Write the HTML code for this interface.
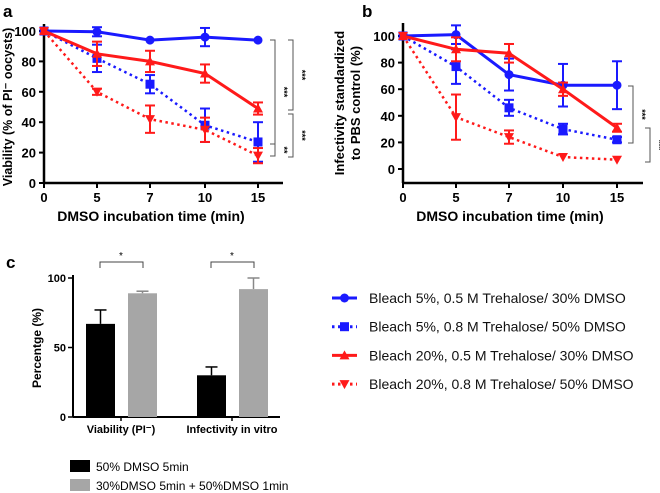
<!DOCTYPE html>
<html><head><meta charset="utf-8"><style>
body{margin:0;background:#fff}
svg{display:block;font-family:"Liberation Sans",Arial,sans-serif}
</style></head><body>
<svg id="fig" width="660" height="493" viewBox="0 0 660 493">
<text x="3" y="17" font-size="17" font-weight="bold">a</text>
<text x="362" y="17" font-size="17" font-weight="bold">b</text>
<text x="6" y="268" font-size="17" font-weight="bold">c</text>
<g id="ga"></g>
<g id="gb"></g>
<g id="gc"></g>
<g id="leg"></g>
</svg>
<script>
const timeCats=["0","5","7","10","15"];
const aBlueSolid=[100,99.5,94,96,94], aBlueSolidErr=[0,3,0,6,0];
const aBlueDot=[100,82,65,38,27], aBlueDotErr=[0,9,6,11,13];
const aRedSolid=[100,85,80,72,49], aRedSolidErr=[0,8,7,6,4];
const aRedDot=[100,60,42,35,18], aRedDotErr=[0,2,9,8,5];
const bBlueSolid=[100,101,71,63,63], bBlueSolidErr=[0,7,12,16,18];
const bBlueDot=[100,77,46,30,22], bBlueDotErr=[0,13,6,4,2];
const bRedSolid=[100,90,87,60,31], bRedSolidErr=[0,9,7,5,3];
const bRedDot=[100,39,24,9,7], bRedDotErr=[0,17,5,0,0];
const yTicks=[0,20,40,60,80,100];
const cCats=["Viability (PI\u207B)","Infectivity in vitro"];
const cBlack=[67,30], cBlackErr=[10,6];
const cGray=[89,92], cGrayErr=[1.5,8];
const cTicks=[0,50,100];
const legendLabels=["Bleach 5%, 0.5 M Trehalose/ 30% DMSO","Bleach 5%, 0.8 M Trehalose/ 50% DMSO","Bleach 20%, 0.5 M Trehalose/ 30% DMSO","Bleach 20%, 0.8 M Trehalose/ 50% DMSO"];
const NS="http://www.w3.org/2000/svg";
function mk(p,tag,at,txt){const e=document.createElementNS(NS,tag);for(const k in at)e.setAttribute(k,at[k]);if(txt!==undefined)e.textContent=txt;p.appendChild(e);return e;}
const BLUE="#1a1aff",RED="#ff1a1a";
function marker(g,shape,x,y,c){
  let m;
  if(shape==="circle")m=mk(g,"circle",{cx:x,cy:y,r:4.5,fill:c});
  else if(shape==="square")m=mk(g,"rect",{x:x-4.5,y:y-4.5,width:9,height:9,fill:c});
  else if(shape==="tri")m=mk(g,"path",{d:`M${x} ${y-5}L${x+5} ${y+4}L${x-5} ${y+4}Z`,fill:c});
  else m=mk(g,"path",{d:`M${x} ${y+5}L${x+5} ${y-4}L${x-5} ${y-4}Z`,fill:c});
  return m;
}
function lineChart(g,cfg,series){
  const X=i=>cfg.xs[i], Y=v=>cfg.y0+(cfg.y100-cfg.y0)*v/100;
  mk(g,"line",{x1:cfg.ax,y1:cfg.top,x2:cfg.ax,y2:cfg.axY,stroke:"#000","stroke-width":2.5});
  mk(g,"line",{x1:cfg.ax,y1:cfg.axY,x2:cfg.right,y2:cfg.axY,stroke:"#000","stroke-width":2.5});
  yTicks.forEach(t=>{const y=Y(t);mk(g,"line",{x1:cfg.ax-5,y1:y,x2:cfg.ax,y2:y,stroke:"#000","stroke-width":2});
    const tl=mk(g,"text",{x:cfg.ax-8,y:y+5,"text-anchor":"end","font-size":13,"font-weight":"bold"},t);
    });
  timeCats.forEach((c,i)=>{const x=X(i);mk(g,"line",{x1:x,y1:cfg.axY,x2:x,y2:cfg.axY+5,stroke:"#000","stroke-width":2});
    const tl=mk(g,"text",{x:x,y:cfg.axY+19,"text-anchor":"middle","font-size":13,"font-weight":"bold"},c);
    });
  const xt=mk(g,"text",{x:(cfg.ax+cfg.xs[4])/2,y:cfg.axY+38,"text-anchor":"middle","font-size":14,"font-weight":"bold"},"DMSO incubation time (min)");
  
  series.forEach(s=>{
    const sg=mk(g,"g",{});
    
    const pts=s.v.map((v,i)=>X(i)+","+Y(v)).join(" ");
    mk(sg,"polyline",{points:pts,fill:"none",stroke:s.c,"stroke-width":s.dot?2.5:3,"stroke-dasharray":s.dot?"2.5 3.5":"none"});
    s.v.forEach((v,i)=>{const e=s.e[i];if(e>0){const x=X(i);
      mk(sg,"line",{x1:x,y1:Y(v+e),x2:x,y2:Y(v-e),stroke:s.c,"stroke-width":2});
      mk(sg,"line",{x1:x-5,y1:Y(v+e),x2:x+5,y2:Y(v+e),stroke:s.c,"stroke-width":2});
      mk(sg,"line",{x1:x-5,y1:Y(v-e),x2:x+5,y2:Y(v-e),stroke:s.c,"stroke-width":2});}
      const m=marker(sg,s.shape,X(i),Y(v),s.c);
      });
  });
}
function bracket(g,x,y1,y2,label){
  mk(g,"path",{d:`M${x-5} ${y1}H${x}V${y2}H${x-5}`,fill:"none",stroke:"#555","stroke-width":1});
  const cy=(y1+y2)/2;
  const t=mk(g,"text",{x:x+6,y:cy,"font-size":9,"font-weight":"bold","text-anchor":"middle",transform:`rotate(90 ${x+6} ${cy})`},label);
  
}
const ga=document.getElementById("ga"),gb=document.getElementById("gb");
lineChart(ga,{ax:44,top:24,axY:183,right:283,y0:183,y100:31,xs:[44,97,150,205,258]},[
 {name:"series-blue-solid",v:aBlueSolid,e:aBlueSolidErr,c:BLUE,shape:"circle",dot:false},
 {name:"series-blue-dotted",v:aBlueDot,e:aBlueDotErr,c:BLUE,shape:"square",dot:true},
 {name:"series-red-solid",v:aRedSolid,e:aRedSolidErr,c:RED,shape:"tri",dot:false},
 {name:"series-red-dotted",v:aRedDot,e:aRedDotErr,c:RED,shape:"tritri",dot:true}]);
lineChart(gb,{ax:403,top:23,axY:183,right:643,y0:169,y100:36,xs:[403,456,509,563,617]},[
 {name:"series-blue-solid",v:bBlueSolid,e:bBlueSolidErr,c:BLUE,shape:"circle",dot:false},
 {name:"series-blue-dotted",v:bBlueDot,e:bBlueDotErr,c:BLUE,shape:"square",dot:true},
 {name:"series-red-solid",v:bRedSolid,e:bRedSolidErr,c:RED,shape:"tri",dot:false},
 {name:"series-red-dotted",v:bRedDot,e:bRedDotErr,c:RED,shape:"tritri",dot:true}]);
let yl=mk(ga,"text",{x:12,y:107,"text-anchor":"middle","font-size":12.5,"font-weight":"bold",transform:"rotate(-90 12 107)"},"Viability (% of PI\u207B oocysts)");

yl=mk(gb,"text",{x:344,y:103,"text-anchor":"middle","font-size":13,"font-weight":"bold",transform:"rotate(-90 344 103)"},"Infectivity standardized");

yl=mk(gb,"text",{x:360,y:103,"text-anchor":"middle","font-size":13,"font-weight":"bold",transform:"rotate(-90 360 103)"},"to PBS control (%)");

bracket(ga,275,40,144,"***");bracket(ga,275,144,156,"**");bracket(ga,293,40,110,"***");bracket(ga,293,114,157,"***");
bracket(gb,633,86,143,"***");bracket(gb,650,128,162,"***");
const gc=document.getElementById("gc");
const cY=v=>417+(278-417)*v/100;
const cCenters=[121,232];
mk(gc,"line",{x1:73,y1:275,x2:73,y2:417,stroke:"#000","stroke-width":2});
mk(gc,"line",{x1:73,y1:417,x2:280,y2:417,stroke:"#000","stroke-width":2});
cTicks.forEach(t=>{const y=cY(t);mk(gc,"line",{x1:68,y1:y,x2:73,y2:y,stroke:"#000","stroke-width":1.5});
  const tl=mk(gc,"text",{x:66,y:y+4,"text-anchor":"end","font-size":11,"font-weight":"bold"},t);
  });
yl=mk(gc,"text",{x:41,y:348,"text-anchor":"middle","font-size":12,"font-weight":"bold",transform:"rotate(-90 41 348)"},"Percentge (%)");

cCats.forEach((c,i)=>{const cx=cCenters[i];
  mk(gc,"line",{x1:cx,y1:417,x2:cx,y2:421,stroke:"#000","stroke-width":1.5});
  const tl=mk(gc,"text",{x:cx,y:433,"text-anchor":"middle","font-size":11,"font-weight":"bold"},c);
  
  [[cBlack,cBlackErr,"#000",-35],[cGray,cGrayErr,"#a6a6a6",7]].forEach(([vals,errs,col,off])=>{
    const v=vals[i],e=errs[i],x=cx+off,w=29;
    mk(gc,"line",{x1:x+w/2,y1:cY(v),x2:x+w/2,y2:cY(v+e),stroke:col==="#000"?"#000":"#888","stroke-width":1.5});
    mk(gc,"line",{x1:x+w/2-6,y1:cY(v+e),x2:x+w/2+6,y2:cY(v+e),stroke:col==="#000"?"#000":"#888","stroke-width":1.5});
    const b=mk(gc,"rect",{x:x,y:cY(v),width:w,height:417-cY(v),fill:col});
    
  });
  const x1=cx-21,x2=cx+22;
  mk(gc,"path",{d:`M${x1} 268V262H${x2}V268`,fill:"none",stroke:"#444","stroke-width":1});
  const st=mk(gc,"text",{x:cx,y:259,"text-anchor":"middle","font-size":10},"*");
  
});
[["#000","50% DMSO 5min",460],["#a6a6a6","30%DMSO 5min + 50%DMSO 1min",479]].forEach(([c,t,y])=>{
  const g=mk(gc,"g",{});
  mk(g,"rect",{x:70,y:y,width:20,height:12,fill:c});
  mk(g,"text",{x:96,y:y+11,"font-size":12},t);
});
const leg=document.getElementById("leg");
const legStyles=[[BLUE,"circle",false],[BLUE,"square",true],[RED,"tri",false],[RED,"tritri",true]];
legendLabels.forEach((l,i)=>{const y=298+i*28.7,[c,sh,dot]=legStyles[i];
  const g=mk(leg,"g",{});
  mk(g,"line",{x1:332,y1:y,x2:357,y2:y,stroke:c,"stroke-width":3,"stroke-dasharray":dot?"2.5 3.5":"none"});
  marker(g,sh,344.5,y,c);
  mk(g,"text",{x:369,y:y+5,"font-size":14,fill:"#111"},l);
});
</script>
</body></html>
